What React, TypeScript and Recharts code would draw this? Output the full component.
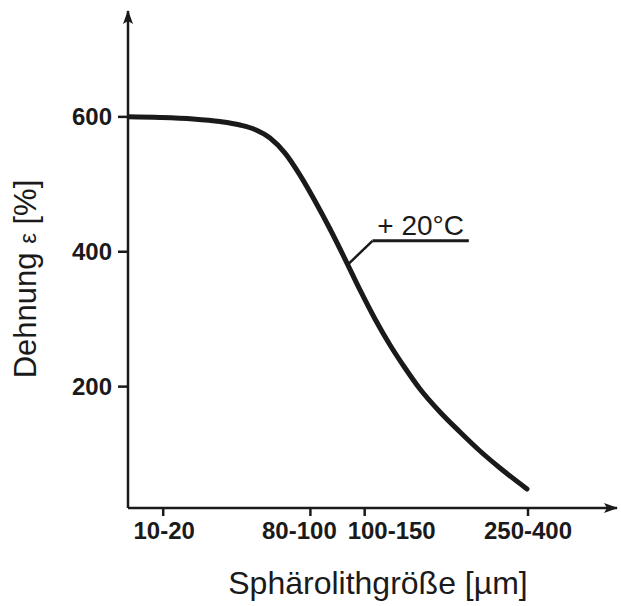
import React from 'react';
import { LineChart, Line, XAxis, YAxis, ReferenceLine } from 'recharts';

// Curve: Dehnung (elongation, %) vs. schematic position along the Sphärolith-size axis
const xPositions = [0, 6.54, 13.29, 18.81, 22.9, 25.97, 29.04, 32.11, 35.17, 38.24, 41.31, 44.38, 47.44, 50.51, 53.58, 56.65, 59.71, 63.8, 67.89, 71.98, 76.07, 81.6];
const elongation = [600, 599.1, 596.9, 593.1, 588.0, 581.3, 568.6, 546.3, 513.7, 475.3, 433.7, 389.2, 343.3, 300.3, 261.7, 227.6, 196.5, 162.4, 132.7, 104.5, 79.3, 48.2];

const xTickPositions = [7.2, 37.3, 48.4, 81.8];
const xTickLabels = ['10-20', '80-100', '100-150', '250-400'];
const yTicks = [200, 400, 600];

const annotationText = '+ 20°C';
const leaderSegment = [{ x: 44.9, y: 380.6 }, { x: 50, y: 416.2 }];
const underlineSegment = [{ x: 50, y: 416.2 }, { x: 69.7, y: 416.2 }];

const data = xPositions.map((x, i) => ({ x, y: elongation[i] }));

const INK = '#1a1a1a';
const FONT = '"Liberation Sans", Arial, Helvetica, sans-serif';
// horizontal nudges of x tick labels (layout only), as in the original figure
const X_LABEL_NUDGE = [1, -11, 27, 0];

const XTick = (props: any) => {
  const { x, y, payload } = props;
  const i = xTickPositions.indexOf(payload.value);
  if (i < 0) return null;
  return (
    <text
      x={x + X_LABEL_NUDGE[i]}
      y={y}
      dy="0.71em"
      textAnchor="middle"
      fill={INK}
      fontSize={24}
      fontWeight="bold"
      fontFamily={FONT}
    >
      {xTickLabels[i]}
    </text>
  );
};

export default function App() {
  return (
    <div style={{ position: 'absolute', left: 0, top: 0, width: 621, height: 606, background: '#fff' }}>
      <LineChart width={621} height={606} data={data} margin={{ top: 11, right: 4, bottom: 38, left: 0 }}>
        <defs>
          <marker id="arrowHead" viewBox="0 0 14 10" refX="13" refY="5" markerWidth="14" markerHeight="10" markerUnits="userSpaceOnUse" orient="auto-start-reverse">
            <path d="M0,0 L14,5 L0,10 L3,5 z" fill={INK} />
          </marker>
        </defs>
        <XAxis
          type="number"
          dataKey="x"
          domain={[0, 100]}
          ticks={xTickPositions}
          interval={0}
          height={60}
          tickSize={8}
          tickMargin={6}
          axisLine={{ stroke: INK, strokeWidth: 2.5, markerEnd: 'url(#arrowHead)' }}
          tickLine={{ stroke: INK, strokeWidth: 2.5 }}
          tick={<XTick />}
          allowDataOverflow
        />
        <YAxis
          type="number"
          domain={[20, 757]}
          ticks={yTicks}
          interval={0}
          width={128}
          tickSize={10}
          tickMargin={6}
          axisLine={{ stroke: INK, strokeWidth: 2.5, markerStart: 'url(#arrowHead)' }}
          tickLine={{ stroke: INK, strokeWidth: 2.5 }}
          tick={{ fill: INK, fontSize: 24, fontWeight: 'bold', fontFamily: FONT }}
          allowDataOverflow
        />
        <Line
          type="monotone"
          dataKey="y"
          stroke={INK}
          strokeWidth={5}
          dot={false}
          isAnimationActive={false}
          strokeLinecap="round"
        />
        <ReferenceLine segment={leaderSegment} stroke={INK} strokeWidth={2.5} ifOverflow="visible" />
        <ReferenceLine
          segment={underlineSegment}
          stroke={INK}
          strokeWidth={3}
          ifOverflow="visible"
          label={{ value: annotationText, position: 'top', offset: 6, fill: INK, fontSize: 28, fontFamily: FONT }}
        />
        <text x={378} y={594} textAnchor="middle" fill={INK} fontSize={32} fontFamily={FONT}>
          Sphärolithgröße [µm]
        </text>
        <text x={36} y={279} textAnchor="middle" fill={INK} fontSize={31} fontFamily={FONT} transform="rotate(-90 36 279)">
          Dehnung <tspan fontSize={24}>ε</tspan> [%]
        </text>
      </LineChart>
    </div>
  );
}
